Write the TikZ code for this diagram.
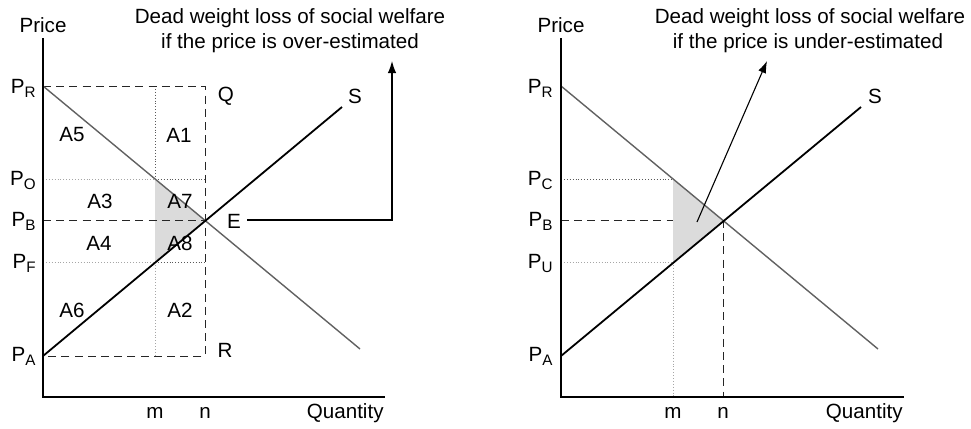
\documentclass[tikz,border=0pt]{standalone}
\usepackage{fontspec}
\setmainfont{Liberation Sans}
\usetikzlibrary{arrows.meta}
\newcommand{\psub}[1]{\raisebox{-2pt}{\fontsize{7.6}{8}\selectfont #1}}
\begin{document}
\begin{tikzpicture}[x=0.5pt,y=-0.5pt,
  font=\fontsize{10.3}{12}\selectfont,
  axis/.style={line width=0.65pt,black},
  demand/.style={line width=0.7pt,draw=black!62},
  supply/.style={line width=0.9pt,black},
  dashln/.style={dash pattern=on 4pt off 2.6pt,line width=0.5pt,black!85},
  dotdark/.style={densely dotted,line width=0.45pt,black!65},
  dotlight/.style={densely dotted,line width=0.45pt,black!35},
  shadefill/.style={fill=black!14},
  lab/.style={inner sep=0pt},
  pl/.style={inner sep=0pt,anchor=base east},
  arr/.style={line width=0.55pt,-{Latex[length=6pt,width=4.2pt]}}]
\useasboundingbox (0,0) rectangle (971,429);

% ---------------- left panel ----------------
\coordinate (O1) at (43,397);
\coordinate (Y1) at (43,38);
\coordinate (X1) at (385,397);
\coordinate (DR1) at (43,86);
\coordinate (DE1) at (360,349);
\coordinate (SA1) at (43,356);
\coordinate (SE1) at (342,107);
\coordinate (E1) at (205,220);
\coordinate (Mt1) at (155,86);
\coordinate (Mo1) at (155,179);
\coordinate (Mf1) at (155,262);
\coordinate (Mb1) at (155,356);
\coordinate (Nt1) at (205,86);
\coordinate (No1) at (205,179);
\coordinate (Nf1) at (205,262);
\coordinate (Nb1) at (205,356);
\coordinate (PO1) at (43,179);
\coordinate (PB1) at (43,220);
\coordinate (PF1) at (43,262);

\fill[shadefill] (Mo1) -- (E1) -- (Mf1) -- cycle;
\draw[dotlight] (PO1) -- (Mo1);
\draw[dotdark] (Mo1) -- (No1);
\draw[dotlight] (PF1) -- (Mf1);
\draw[dotdark] (Mf1) -- (Nf1);
\draw[dotdark] (Mt1) -- (Mo1);
\draw[dotlight] (Mf1) -- (Mb1);
\draw[dashln] (DR1) -- (Nt1) -- (Nb1) -- (SA1);
\draw[dashln] (PB1) -- (E1);
\draw[demand] (DR1) -- (DE1);
\draw[supply] (SA1) -- (SE1);
\draw[axis] (Y1) -- (O1) -- (X1);

\coordinate (L1) at (247,220);
\coordinate (L2) at (392,220);
\coordinate (L3) at (392,61);
\draw[arr] (L1) -- (L2) -- (L3);

\node[lab,anchor=base] (priceL) at (43,32) {Price};
\node[lab,anchor=base] (t1a) at (290,23) {Dead weight loss of social welfare};
\node[lab,anchor=base] (t1b) at (290,48) {if the price is over-estimated};
\node[pl] (lPR) at (36,93) {P\psub{R}};
\node[pl] (lPO) at (36,185) {P\psub{O}};
\node[pl] (lPB) at (36,226) {P\psub{B}};
\node[pl] (lPF) at (36,268) {P\psub{F}};
\node[pl] (lPA) at (36,361) {P\psub{A}};
\node[lab] (a5) at (72,135) {A5};
\node[lab] (a1) at (179,135) {A1};
\node[lab] (a3) at (100,201) {A3};
\node[lab] (a7) at (180,201) {A7};
\node[lab] (a4) at (99,243) {A4};
\node[lab] (a8) at (180,243) {A8};
\node[lab] (a6) at (72,310) {A6};
\node[lab] (a2) at (180,310) {A2};
\node[lab] (q1) at (226,96) {Q};
\node[lab] (r1) at (225,350) {R};
\node[lab] (e1) at (234,221) {E};
\node[lab] (s1) at (355,96) {S};
\node[lab,anchor=base] (m1) at (155,418) {m};
\node[lab,anchor=base] (n1) at (205,418) {n};
\node[lab,anchor=base east] (qty1) at (384,418) {Quantity};

% ---------------- right panel ----------------
\coordinate (O2) at (561,397);
\coordinate (Y2) at (561,38);
\coordinate (X2) at (904,397);
\coordinate (DR2) at (561,86);
\coordinate (DE2) at (878,349);
\coordinate (SA2) at (561,356);
\coordinate (SE2) at (861,107);
\coordinate (E2) at (723,220);
\coordinate (Mc2) at (673,179);
\coordinate (Mu2) at (673,262);
\coordinate (Mb2) at (673,397);
\coordinate (Mbb2) at (673,220);
\coordinate (Nb2) at (723,397);
\coordinate (PC2) at (561,179);
\coordinate (PB2) at (561,220);
\coordinate (PU2) at (561,262);

\fill[shadefill] (Mc2) -- (E2) -- (Mu2) -- cycle;
\draw[dotdark] (PC2) -- (Mc2);
\draw[dotlight] (PU2) -- (Mu2);
\draw[dotlight] (Mu2) -- (Mb2);
\draw[dashln] (PB2) -- (Mbb2);
\draw[dashln] (E2) -- (Nb2);
\draw[demand] (DR2) -- (DE2);
\draw[supply] (SA2) -- (SE2);
\draw[axis] (Y2) -- (O2) -- (X2);

\coordinate (R1) at (697,222);
\coordinate (R2) at (767,61);
\draw[arr] (R1) -- (R2);

\node[lab,anchor=base] (priceR) at (561,32) {Price};
\node[lab,anchor=base] (t2a) at (810,23) {Dead weight loss of social welfare};
\node[lab,anchor=base] (t2b) at (808,48) {if the price is under-estimated};
\node[pl] (rPR) at (553,93) {P\psub{R}};
\node[pl] (rPC) at (553,185) {P\psub{C}};
\node[pl] (rPB) at (553,226) {P\psub{B}};
\node[pl] (rPU) at (553,268) {P\psub{U}};
\node[pl] (rPA) at (553,361) {P\psub{A}};
\node[lab] (s2) at (875,96) {S};
\node[lab,anchor=base] (m2) at (673,418) {m};
\node[lab,anchor=base] (n2) at (723,418) {n};
\node[lab,anchor=base east] (qty2) at (903,418) {Quantity};
\end{tikzpicture}
\end{document}
